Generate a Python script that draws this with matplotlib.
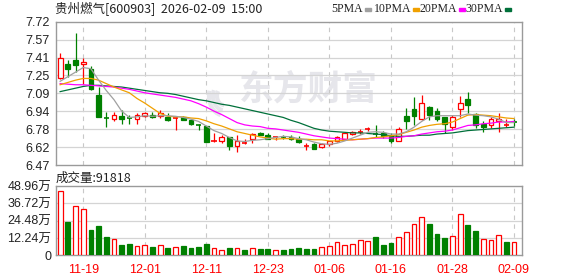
import matplotlib.pyplot as plt
from matplotlib.patches import Rectangle, Arc

plt.rcParams['font.family'] = ['Liberation Sans', 'Noto Sans CJK SC']

# 日K数据（价格：元，成交量：万手）
dates = ['11-19', '12-01', '12-11', '12-23', '01-06', '01-16', '01-28', '02-09']
date_pos = [3, 11, 19, 27, 35, 43, 51, 59]

opens = [7.23, 7.35, 7.39, 7.35, 7.31, 7.08, 6.882, 6.87, 6.90, 6.878,
         6.87, 6.90, 6.91, 6.90, 6.89, 6.877, 6.89, 6.86, 6.815, 6.81,
         6.68, 6.68, 6.71, 6.64, 6.665, 6.70, 6.75, 6.73, 6.715, 6.712,
         6.715, 6.695, 6.64, 6.655, 6.63, 6.65, 6.675, 6.70, 6.74, 6.762,
         6.787, 6.743, 6.745, 6.73, 6.68, 6.90, 6.955, 6.87, 6.975, 6.94,
         6.885, 6.80, 6.955, 7.045, 6.915, 6.825, 6.82, 6.85, 6.817, 6.842]
highs = [7.45, 7.39, 7.62, 7.40, 7.33, 7.15, 6.93, 6.93, 6.95, 6.91,
         6.92, 6.93, 6.93, 6.95, 6.92, 6.885, 6.90, 6.87, 6.83, 6.81,
         6.75, 6.73, 6.71, 6.73, 6.70, 6.745, 6.76, 6.745, 6.725, 6.73,
         6.73, 6.72, 6.665, 6.665, 6.665, 6.68, 6.72, 6.75, 6.765, 6.785,
         6.80, 6.82, 6.765, 6.745, 6.80, 6.97, 7.06, 7.08, 6.985, 6.965,
         6.89, 6.905, 7.07, 7.11, 6.92, 6.85, 6.89, 6.92, 6.87, 6.875]
lows = [7.22, 7.24, 7.28, 7.18, 7.12, 6.89, 6.80, 6.85, 6.83, 6.83,
        6.83, 6.89, 6.88, 6.88, 6.85, 6.775, 6.86, 6.815, 6.775, 6.67,
        6.67, 6.665, 6.60, 6.58, 6.65, 6.665, 6.73, 6.695, 6.69, 6.695,
        6.69, 6.66, 6.60, 6.61, 6.62, 6.64, 6.67, 6.69, 6.73, 6.74,
        6.77, 6.715, 6.705, 6.66, 6.675, 6.78, 6.82, 6.86, 6.86, 6.85,
        6.75, 6.775, 6.89, 6.92, 6.79, 6.76, 6.79, 6.76, 6.80, 6.81]
closes = [7.40, 7.31, 7.34, 7.37, 7.13, 6.89, 6.878, 6.91, 6.87, 6.875,
          6.91, 6.92, 6.89, 6.92, 6.86, 6.88, 6.86, 6.825, 6.81, 6.67,
          6.685, 6.71, 6.64, 6.68, 6.67, 6.74, 6.73, 6.70, 6.72, 6.71,
          6.70, 6.67, 6.645, 6.61, 6.655, 6.675, 6.71, 6.745, 6.755, 6.765,
          6.79, 6.74, 6.725, 6.675, 6.78, 6.85, 6.90, 7.01, 6.905, 6.875,
          6.83, 6.885, 7.015, 6.99, 6.815, 6.805, 6.87, 6.875, 6.82, 6.84]

ma5 = [7.20, 7.24, 7.28, 7.32, 7.31, 7.21, 7.12, 7.04, 6.94, 6.885,
       6.89, 6.90, 6.895, 6.90, 6.90, 6.895, 6.885, 6.87, 6.85, 6.81,
       6.77, 6.745, 6.71, 6.68, 6.675, 6.685, 6.69, 6.70, 6.71, 6.72,
       6.715, 6.70, 6.69, 6.67, 6.655, 6.65, 6.66, 6.68, 6.705, 6.73,
       6.755, 6.76, 6.755, 6.74, 6.74, 6.76, 6.80, 6.85, 6.89, 6.90,
       6.90, 6.90, 6.90, 6.915, 6.905, 6.90, 6.89, 6.87, 6.84, 6.84]
ma10 = [7.17, 7.19, 7.21, 7.225, 7.225, 7.21, 7.18, 7.15, 7.125, 7.10,
        7.05, 7.01, 6.965, 6.92, 6.895, 6.89, 6.89, 6.88, 6.875, 6.855,
        6.83, 6.81, 6.785, 6.76, 6.745, 6.73, 6.715, 6.705, 6.695, 6.70,
        6.70, 6.695, 6.695, 6.69, 6.69, 6.68, 6.68, 6.685, 6.69, 6.695,
        6.70, 6.71, 6.715, 6.725, 6.735, 6.755, 6.775, 6.80, 6.815, 6.825,
        6.83, 6.845, 6.875, 6.905, 6.91, 6.905, 6.90, 6.89, 6.88, 6.875]
ma20 = [7.18, 7.175, 7.17, 7.17, 7.165, 7.16, 7.155, 7.15, 7.14, 7.13,
        7.115, 7.10, 7.09, 7.08, 7.07, 7.06, 7.045, 7.03, 7.005, 6.975,
        6.94, 6.91, 6.875, 6.84, 6.82, 6.81, 6.805, 6.79, 6.785, 6.775,
        6.765, 6.755, 6.74, 6.725, 6.715, 6.705, 6.70, 6.695, 6.69, 6.695,
        6.70, 6.705, 6.705, 6.705, 6.71, 6.72, 6.725, 6.74, 6.75, 6.76,
        6.765, 6.775, 6.795, 6.815, 6.82, 6.83, 6.835, 6.845, 6.845, 6.85]
ma30 = [7.11, 7.125, 7.14, 7.155, 7.165, 7.165, 7.16, 7.155, 7.15, 7.14,
        7.13, 7.12, 7.11, 7.10, 7.095, 7.085, 7.07, 7.055, 7.04, 7.03,
        7.015, 7.00, 6.99, 6.975, 6.96, 6.945, 6.93, 6.915, 6.90, 6.885,
        6.86, 6.84, 6.815, 6.79, 6.775, 6.765, 6.76, 6.755, 6.75, 6.75,
        6.745, 6.74, 6.735, 6.725, 6.72, 6.72, 6.725, 6.73, 6.73, 6.74,
        6.745, 6.75, 6.76, 6.77, 6.775, 6.78, 6.785, 6.79, 6.795, 6.80]

volumes = [45.4, 23.8, 34.6, 32.7, 18.1, 20.7, 12.9, 11.5, 7.3, 8.0,
           6.6, 7.1, 5.9, 7.1, 5.4, 5.9, 6.6, 5.4, 5.9, 8.0,
           5.2, 3.5, 5.2, 5.2, 4.0, 5.2, 4.7, 4.7, 3.8, 4.0,
           4.5, 5.2, 4.5, 4.5, 5.6, 6.4, 9.2, 7.1, 7.8, 10.8,
           9.9, 12.9, 7.3, 8.7, 12.7, 16.2, 21.9, 26.8, 22.1, 15.1,
           12.2, 13.7, 29.0, 21.4, 17.2, 11.3, 10.8, 14.1, 9.4, 9.18]
vol_up = [1, 0, 1, 1, 0, 0, 0, 1, 0, 0, 1, 1, 0, 1, 0, 1, 0, 0, 0, 0,
          1, 1, 0, 1, 0, 1, 0, 0, 1, 0, 0, 0, 0, 0, 1, 1, 1, 1, 1, 1,
          1, 0, 0, 0, 1, 1, 1, 1, 0, 0, 0, 1, 1, 0, 0, 1, 1, 1, 0, 1]

price_ticks = ['7.72', '7.57', '7.41', '7.25', '7.09', '6.94', '6.78', '6.62', '6.47']
vol_ticks = ['48.96万', '36.72万', '24.48万', '12.24万', '0']
p_lo, p_hi = 6.47, 7.72
v_hi = 48.96

RED = '#ff0000'
GREEN = '#008000'
GRID = '#d4d4d4'
FRAME = '#9a9a9a'

W, H = 578, 276
fig = plt.figure(figsize=(W / 100, H / 100), dpi=100, facecolor='white')

# 底层：标题、水印、图例（像素坐标）
ov = fig.add_axes([0, 0, 1, 1], facecolor='none')
ov.set_zorder(-1)
ov.set_xlim(0, W)
ov.set_ylim(H, 0)
ov.axis('off')

L, R = 55.5, 522
ax = fig.add_axes([L / W, 1 - 165 / H, (R - L) / W, (165 - 21.7) / H])
axv = fig.add_axes([L / W, 1 - 255.3 / H, (R - L) / W, (255.3 - 186) / H])
n = len(closes)
xs = list(range(n))

for a in (ax, axv):
    a.patch.set_alpha(0)
    a.set_xlim(-0.6, 60.04)
    a.set_xticks([])
    for s in a.spines.values():
        s.set_color(FRAME)
        s.set_linewidth(1)
    for p in date_pos:
        a.axvline(p, color='#c8c8c8', lw=0.8, ls=(0, (4, 4)), zorder=0)

# 水印
ov.text(239, 89, '东方财富', ha='left', va='center', fontsize=25,
        fontweight='bold', color='#e6e6eb', family='Noto Sans CJK SC')
for r, t1, t2 in [(15, 100, 200), (11, 95, 210), (7, 90, 220)]:
    ov.add_patch(Arc((224, 96), 2 * r, 2.6 * r, theta1=t1, theta2=t2,
                     color='#e6e6eb', lw=3))

# 价格区
ax.set_ylim(p_lo, p_hi)
step = (p_hi - p_lo) / (len(price_ticks) - 1)
levels = [p_hi - k * step for k in range(len(price_ticks))]
ax.set_yticks(levels)
ax.set_yticklabels(price_ticks)
for y in levels[1:-1]:
    ax.axhline(y, color=GRID, lw=0.9, zorder=0)
ax.tick_params(axis='y', length=0, pad=4, labelsize=9, colors='#222222')

for i in xs:
    o, h, l, c = opens[i], highs[i], lows[i], closes[i]
    up = c >= o
    col = RED if up else GREEN
    ax.vlines(i, l, h, color=col, lw=0.9, zorder=3)
    if abs(c - o) < 0.006:
        ax.hlines(o, i - 0.33, i + 0.33, color=col, lw=1.2, zorder=4)
    else:
        ax.bar(i, abs(c - o), bottom=min(o, c), width=0.62,
               facecolor='white' if up else col, edgecolor=col, lw=0.9, zorder=4)

ax.plot(xs, ma30, color='#00703a', lw=0.9, zorder=5)
ax.plot(xs, ma20, color='#ff00ff', lw=0.9, zorder=5)
ax.plot(xs, ma10, color='#f0a000', lw=0.9, zorder=5)
ax.plot(xs, ma5, color='#a0a0a0', lw=0.9, zorder=5)

# 成交量区
axv.set_ylim(0, v_hi)
vlev = [v_hi - k * v_hi / 4 for k in range(5)]
axv.set_yticks(vlev)
axv.set_yticklabels(vol_ticks)
for y in vlev[1:-1]:
    axv.axhline(y, color=GRID, lw=0.9, zorder=0)
axv.tick_params(axis='y', length=0, pad=3, labelsize=9, colors='#222222')
for i in xs:
    col = RED if vol_up[i] else GREEN
    axv.bar(i, volumes[i], width=0.62, facecolor='white' if vol_up[i] else col,
            edgecolor=col, lw=0.9, zorder=3)
for p, d in zip(date_pos, dates):
    axv.text(p, -0.13, d, transform=axv.get_xaxis_transform(), ha='center',
             va='top', fontsize=9, color=RED)

# 标题、图例
ov.text(55, 9, '贵州燃气[600903]  2026-02-09  15:00', ha='left', va='center',
        fontsize=9, color='#222222', family=['Noto Sans CJK SC'])
ov.text(56, 178, '成交量:91818', ha='left', va='center', fontsize=9,
        color='#222222', family=['Noto Sans CJK SC'])
legend = [('5PMA', '#a0a0a0', 363), ('10PMA', '#f0a000', 411),
          ('20PMA', '#ff00ff', 457), ('30PMA', '#00703a', 503)]
for name, col, xr in legend:
    ov.text(xr, 9, name, ha='right', va='center', fontsize=8.5,
            color='#222222', family='Liberation Serif')
    ov.add_patch(Rectangle((xr + 2, 7.5), 6, 3, color=col))

fig.savefig('out.png', dpi=100, facecolor='white')
